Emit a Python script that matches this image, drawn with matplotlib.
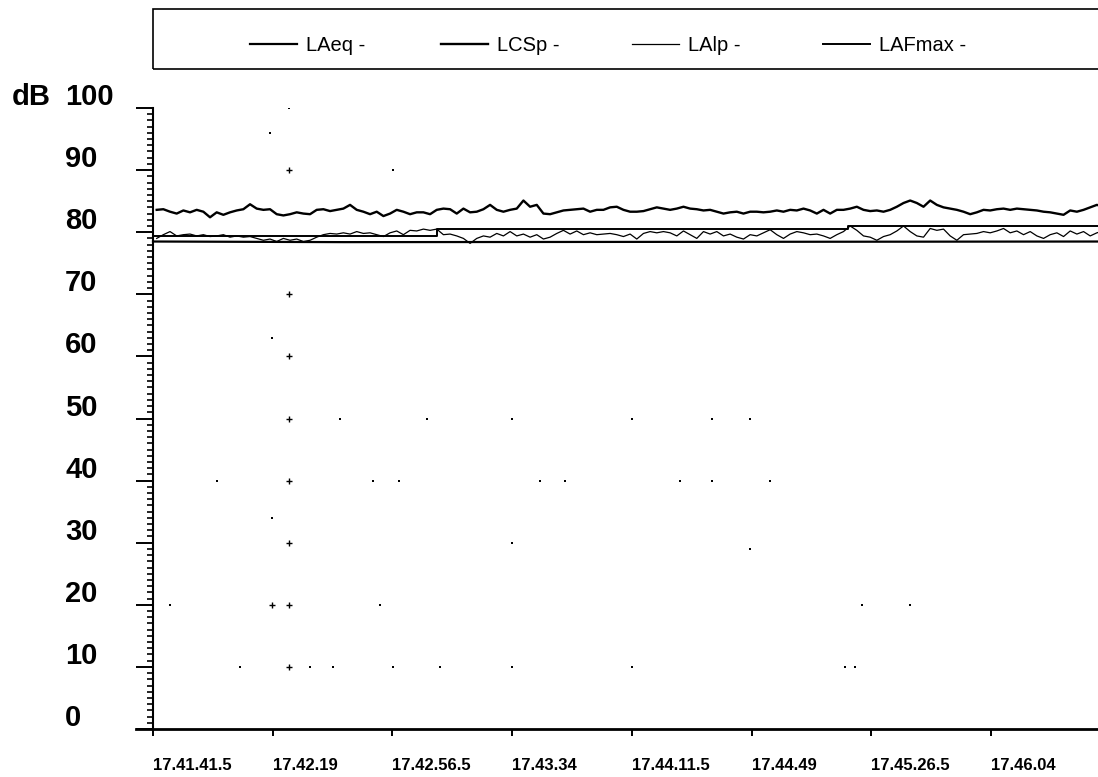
import numpy as np
import matplotlib
matplotlib.use("Agg")
import matplotlib.pyplot as plt
from matplotlib.transforms import blended_transform_factory, ScaledTranslation
from matplotlib.patches import Rectangle
from matplotlib.lines import Line2D

# ---------------------------------------------------------------- data
# Sound level samples (dB) every ~2.09 s from 17.41.41.5
SAMPLE_START = 1.15
SAMPLE_STEP = 2.089

LCSP = [
    83.6, 83.7, 83.3, 83.0, 83.5, 83.2, 83.6, 83.3, 82.4, 83.2,
    82.8, 83.2, 83.5, 83.7, 84.5, 83.8, 83.6, 83.7, 82.9, 82.7,
    82.9, 83.2, 83.0, 82.9, 83.6, 83.7, 83.4, 83.6, 83.8, 84.4,
    83.6, 83.3, 82.9, 83.3, 82.6, 83.0, 83.6, 83.3, 82.9, 83.2,
    83.2, 82.9, 83.6, 83.8, 83.7, 83.0, 83.8, 83.2, 83.3, 83.7,
    84.4, 83.6, 83.3, 83.6, 83.8, 85.1, 84.1, 84.4, 83.0, 82.9,
    83.2, 83.5, 83.6, 83.7, 83.8, 83.3, 83.6,
    83.6, 84.0, 84.1, 83.6, 83.3, 83.3, 83.4, 83.7, 84.0, 83.8,
    83.6, 83.8, 84.1, 83.8, 83.7, 83.5, 83.6, 83.3, 83.0, 83.2,
    83.3, 83.0, 83.3, 83.3, 83.2, 83.3, 83.5, 83.3, 83.6, 83.5,
    83.8, 83.5, 83.0, 83.6, 83.0, 83.6, 83.6, 83.8, 84.1, 83.6,
    83.4, 83.5, 83.3, 83.6, 84.1, 84.7, 85.1, 84.7, 84.1, 85.1,
    84.4, 84.0, 83.8, 83.6, 83.3, 82.9, 83.2, 83.6, 83.5, 83.7,
    83.8, 83.6, 83.8, 83.7, 83.6, 83.5, 83.3, 83.2, 83.0, 82.8,
    83.5, 83.3, 83.6, 84.0, 84.4, 84.1,
]

LAIP = [
    79.0, 79.6, 80.1, 79.4, 79.6, 79.7, 79.4, 79.6, 79.3, 79.4,
    79.6, 79.2, 79.4, 79.2, 79.3, 79.0, 78.7, 78.9, 78.5, 79.0,
    78.7, 78.9, 78.5, 78.7, 79.2, 79.6, 79.8, 79.7, 79.9, 79.7,
    80.1, 79.8, 79.9, 79.6, 79.3, 79.9, 80.2, 79.6, 80.3, 80.2,
    80.5, 80.3, 80.5, 79.6, 79.7, 79.4, 79.0, 78.2, 79.0, 79.4,
    79.2, 79.8, 79.4, 80.1, 79.4, 79.7, 79.2, 79.6, 78.9, 79.2,
    79.8, 80.3, 79.7, 80.2, 79.6, 79.9, 79.6,
    79.7, 79.8, 79.6, 79.3, 79.7, 78.9, 79.8, 80.1, 79.9, 80.1,
    79.9, 79.4, 80.2, 79.6, 79.0, 80.1, 79.7, 80.1, 79.4, 79.7,
    79.2, 78.9, 79.6, 79.4, 79.9, 80.4, 79.6, 79.0, 79.7, 80.1,
    79.9, 79.6, 79.7, 79.4, 79.0, 79.6, 80.1, 81.0, 80.3, 79.4,
    79.2, 78.7, 79.3, 79.6, 80.2, 81.0, 80.1, 79.4, 79.2, 80.6,
    80.3, 80.5, 79.4, 78.7, 79.6, 79.7, 79.8, 80.1, 79.9, 80.2,
    80.6, 79.9, 80.2, 79.6, 80.1, 79.4, 79.0, 79.6, 79.9, 79.3,
    80.2, 79.7, 80.1, 79.4, 79.9, 80.2,
]

# Running maximum (step changes) and equivalent level
LAFMAX_T = [0.0, 89.0, 217.7, 300.0]
LAFMAX_DB = [79.4, 80.5, 81.05, 81.05]
LAEQ_T = [0.0, 60.0, 300.0]
LAEQ_DB = [78.5, 78.4, 78.5]

# Isolated single-sample readings
DOT_T = [36.7, 75.2, 37.3, 58.6, 85.8, 112.5, 150.1, 175.1, 187.0,
         20.1, 68.9, 77.1, 121.2, 129.1, 165.1, 175.1, 193.3, 37.3,
         112.5, 187.0, 5.3, 71.1, 222.1, 237.2, 27.3, 49.2, 56.4,
         75.2, 89.9, 112.5, 150.1, 216.8, 219.9, 42.6]
DOT_DB = [96, 90, 63, 50, 50, 50, 50, 50, 50,
          40, 40, 40, 40, 40, 40, 40, 40, 34,
          30, 29, 20, 20, 20, 20, 10, 10, 10,
          10, 10, 10, 10, 10, 10, 100]
CROSS_T = [42.6, 42.6, 42.6, 42.6, 42.6, 42.6, 42.6, 37.3, 42.6]
CROSS_DB = [90, 70, 60, 50, 40, 30, 20, 20, 10]

TICK_TIMES = [0.0, 37.5, 75.0, 112.5, 150.0, 187.5, 225.0, 262.5]
TICK_LABELS = ["17.41.41.5", "17.42.19", "17.42.56.5", "17.43.34",
               "17.44.11.5", "17.44.49", "17.45.26.5", "17.46.04"]
SERIES_NAMES = ["LAeq -", "LCSp -", "LAlp -", "LAFmax -"]

# ---------------------------------------------------------------- figure
W, H, DPI = 1098, 777, 100
plt.rcParams["font.family"] = ["Liberation Sans", "DejaVu Sans"]
fig = plt.figure(figsize=(W / DPI, H / DPI), dpi=DPI)

ax_left, ax_right, ax_bottom, ax_top = 136, 1098, 729, 108
ax = fig.add_axes([ax_left / W, 1 - ax_bottom / H,
                   (ax_right - ax_left) / W, (ax_bottom - ax_top) / H])
ax.set_xlim(-5.33, 296.05)
ax.set_ylim(0, 100)

t_samples = SAMPLE_START + SAMPLE_STEP * np.arange(len(LCSP))
t_laip = SAMPLE_START + SAMPLE_STEP * np.arange(len(LAIP))

lw = {"LAeq": 1.6, "LCSp": 1.7, "LAIp": 0.9, "LAFmax": 1.4}
ax.plot(LAEQ_T, LAEQ_DB, color="black", lw=lw["LAeq"])
ax.plot(t_samples, LCSP, color="black", lw=lw["LCSp"])
ax.plot(t_laip, LAIP, color="black", lw=lw["LAIp"])
ax.plot(LAFMAX_T, LAFMAX_DB, color="black", lw=lw["LAFmax"], drawstyle="steps-post")

ax.plot(DOT_T, DOT_DB, ls="none", marker="s", ms=1.6, color="black", mew=0)
ax.plot(CROSS_T, CROSS_DB, ls="none", marker="+", ms=5, color="black", mew=1.0)

# spines and ticks
for side in ("top", "right"):
    ax.spines[side].set_visible(False)
ax.spines["left"].set_position(("data", 0))
ax.spines["left"].set_linewidth(1.5)
ax.spines["bottom"].set_linewidth(2.0)

ax.set_yticks(np.arange(0, 101, 10))
ax.set_yticks(np.arange(0, 101, 1), minor=True)
ax.tick_params(axis="y", which="major", length=12.2, width=1.4,
               direction="out", labelleft=False)
ax.tick_params(axis="y", which="minor", length=4.3, width=1.2, direction="out")
ax.set_xticks(TICK_TIMES)
ax.tick_params(axis="x", which="major", length=5, width=1.4,
               direction="out", labelbottom=False)

# y labels (left aligned column, baseline slightly above each tick)
ytrans = blended_transform_factory(fig.transFigure, ax.transData) + \
    ScaledTranslation(0, 3 / DPI, fig.dpi_scale_trans)
for v in range(0, 101, 10):
    ax.text(65 / W, v, str(v), transform=ytrans, ha="left", va="baseline",
            fontsize=21, fontweight="bold")
ax.text(12 / W, 100, "dB", transform=ytrans, ha="left", va="baseline",
        fontsize=21, fontweight="bold")

# x labels, left aligned at each tick
xtrans = blended_transform_factory(ax.transData, ax.transAxes) + \
    ScaledTranslation(0, -41 / DPI, fig.dpi_scale_trans)
for t, lab in zip(TICK_TIMES, TICK_LABELS):
    ax.text(t, 0, lab, transform=xtrans, ha="left", va="baseline",
            fontsize=12, fontweight="bold")

# legend strip across the top
fig.add_artist(Rectangle((153 / W, 1 - 69 / H), (W + 20 - 153) / W, 60 / H,
                         transform=fig.transFigure, fill=False, lw=1.2,
                         ec="black", clip_on=False))
handle_x = [250, 441, 632, 823]
handle_lw = [lw["LAeq"], lw["LCSp"], lw["LAIp"], lw["LAFmax"]]
for x0, name, hlw in zip(handle_x, SERIES_NAMES, handle_lw):
    fig.add_artist(Line2D([x0 / W, (x0 + 47) / W], [1 - 44 / H, 1 - 44 / H],
                          transform=fig.transFigure, color="black", lw=hlw))
    fig.text((x0 + 56) / W, 1 - 51 / H, name, ha="left", va="baseline",
             fontsize=14.5)

fig.savefig("out.png", dpi=DPI)
